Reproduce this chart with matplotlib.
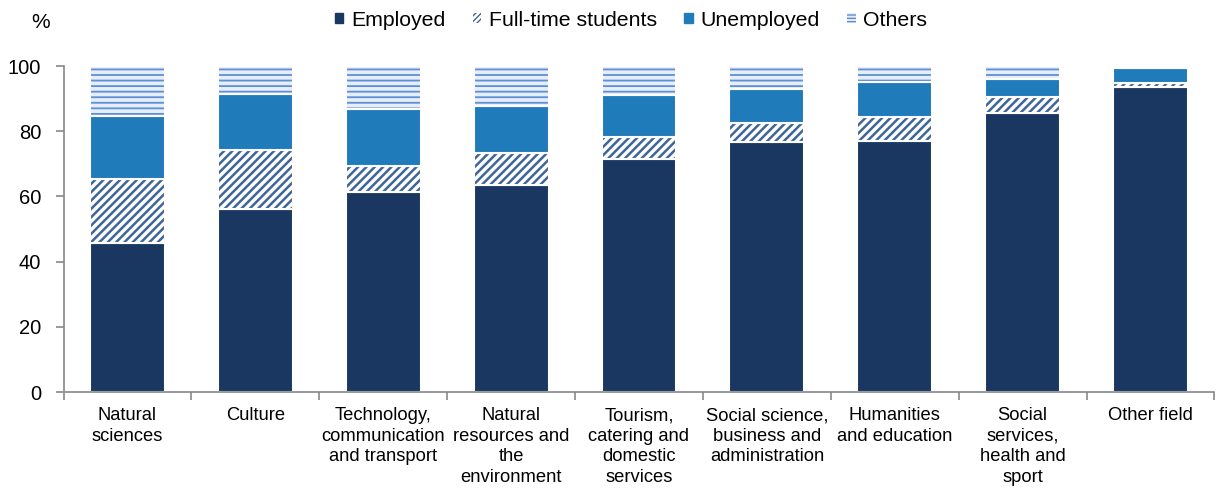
import matplotlib
matplotlib.use("Agg")
import matplotlib.pyplot as plt
import numpy as np
from matplotlib.patches import Patch

plt.rcParams['font.family'] = ['Liberation Sans', 'DejaVu Sans']

categories = ["Natural\nsciences", "Culture", "Technology,\ncommunication\nand transport",
              "Natural\nresources and\nthe\nenvironment", "Tourism,\ncatering and\ndomestic\nservices",
              "Social science,\nbusiness and\nadministration", "Humanities\nand education",
              "Social\nservices,\nhealth and\nsport", "Other field"]
employed = [45.7, 56.1, 61.3, 63.5, 71.5, 76.7, 77.0, 85.6, 93.6]
students = [19.6, 18.1, 8.0, 9.8, 6.7, 5.8, 7.4, 4.9, 1.2]
unemployed = [19.4, 17.2, 17.5, 14.4, 12.9, 10.4, 10.7, 5.5, 4.6]
others = [15.3, 8.6, 13.2, 12.3, 8.9, 7.1, 4.9, 4.0, 0.6]
series_names = ["Employed", "Full-time students", "Unemployed", "Others"]

c_emp = '#193760'
c_unemp = '#207bbb'
c_stud_hatch = '#3e6699'
c_oth_hatch = '#5d8fd6'
c_oth_face = '#e6eef9'

fig = plt.figure(figsize=(12.21, 4.91), dpi=100)
ax = fig.add_axes([63.5/1221, 1-392/491, 1151/1221, 326/491])

x = np.arange(len(categories))
w = 0.585
emp = np.array(employed); stu = np.array(students); une = np.array(unemployed); oth = np.array(others)

ax.bar(x, emp, w, color=c_emp, edgecolor='white', linewidth=1.5)
with plt.rc_context({'hatch.linewidth': 1.8}):
    ax.bar(x, stu, w, bottom=emp, color='white', edgecolor=c_stud_hatch, linewidth=0, hatch='////')
ax.bar(x, stu, w, bottom=emp, color='none', edgecolor='white', linewidth=1.5)
ax.bar(x, une, w, bottom=emp+stu, color=c_unemp, edgecolor='white', linewidth=1.5)
with plt.rc_context({'hatch.linewidth': 1.3}):
    ax.bar(x, oth, w, bottom=emp+stu+une, color=c_oth_face, edgecolor=c_oth_hatch, linewidth=0, hatch='---')
ax.bar(x, oth, w, bottom=emp+stu+une, color='none', edgecolor='white', linewidth=1.5)

ax.set_ylim(0, 100)
ax.set_xlim(-0.5, len(categories) - 0.5)
ax.set_yticks(np.arange(0, 101, 20))
ax.tick_params(axis='y', labelsize=14.5, length=6, color='#888888', width=1.2, pad=10)
ax.set_xticks(x)
ax.set_xticklabels(categories, fontsize=13.2, linespacing=1.27)
ax.tick_params(axis='x', length=0, pad=11)
ax.set_xticks(np.arange(-0.5, len(categories), 1), minor=True)
ax.tick_params(axis='x', which='minor', length=6, color='#888888', width=1.2)
for s in ['top', 'right']:
    ax.spines[s].set_visible(False)
for s in ['left', 'bottom']:
    ax.spines[s].set_color('#888888')
    ax.spines[s].set_linewidth(1.2)

fig.text(41/1221, 1-22/491, '%', fontsize=15, va='center', ha='center')

with plt.rc_context({'hatch.linewidth': 1.2}):
    handles = [Patch(facecolor=c_emp, edgecolor=c_emp),
               Patch(facecolor='white', edgecolor=c_stud_hatch, hatch='//////', linewidth=0),
               Patch(facecolor=c_unemp, edgecolor=c_unemp),
               Patch(facecolor=c_oth_face, edgecolor=c_oth_hatch, hatch='-----', linewidth=0)]
leg = fig.legend(handles, series_names, loc='center', bbox_to_anchor=(631/1221, 1-20/491), ncol=4,
                 frameon=False, fontsize=15.3, handlelength=0.4, handleheight=0.4,
                 handletextpad=0.35, columnspacing=1.3)

fig.savefig('out.png', dpi=100)
